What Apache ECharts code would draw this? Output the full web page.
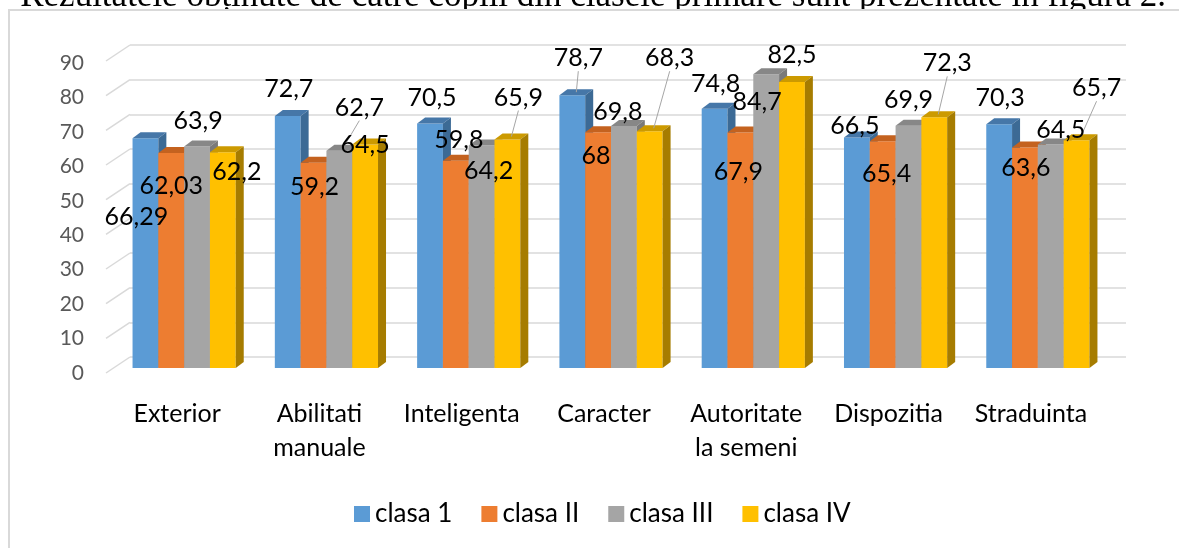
<!DOCTYPE html>
<html>
<head>
<meta charset="utf-8">
<script src="https://cdn.jsdelivr.net/npm/echarts@6/dist/echarts.min.js"></script>
<style>
  html, body { margin: 0; padding: 0; background: #fff; }
  #chart { width: 1179px; height: 548px; }
</style>
</head>
<body>
<div id="chart"></div>
<script>
// date
var categories = ['Exterior', 'Abilitati\nmanuale', 'Inteligenta', 'Caracter', 'Autoritate\nla semeni', 'Dispozitia', 'Straduinta'];
var seriesNames = ['clasa 1', 'clasa II', 'clasa III', 'clasa IV'];
var clasa1 = [66.29, 72.7, 70.5, 78.7, 74.8, 66.5, 70.3];
var clasa2 = [62.03, 59.2, 59.8, 68, 67.9, 65.4, 63.6];
var clasa3 = [63.9, 62.7, 64.2, 69.8, 84.7, 69.9, 64.5];
var clasa4 = [62.2, 64.5, 65.9, 68.3, 82.5, 72.3, 65.7];
var yTicks = [0, 10, 20, 30, 40, 50, 60, 70, 80, 90];

// stil: culori fata / capac / lateral
var faceColors = ['#5B9BD5', '#ED7D31', '#A5A5A5', '#FFC000'];
var topColors = ['#4677a8', '#c4621f', '#878787', '#cc9a00'];
var sideColors = ['#3c6a95', '#b0561b', '#7a7a7a', '#a67c00'];

// pozitia etichetelor (mutate manual in original), fata de capul barei
var labelShift = [
  [[-9, 79], [1, -27], [2, -26], [6, -37], [1, -25], [-2, -12], [1, -26]],
  [[0, 33], [1, 24], [3, -21], [-2, 24], [-2, 39], [4, 33], [1, 20]],
  [[1, -26], [20, -43], [7, 25], [-6, -14], [-9, 28], [0, -26], [10, -14]],
  [[14, 20], [0, 1], [11, -42], [20, -73], [0, -27], [13, -54], [20, -52]]
];
var leaderLines = [[3], [], [1], [2, 3, 5, 6]];

var FONT = 'Lato, "Noto Sans", sans-serif';
var DEPTH_X = -17, DEPTH_Y = 11;   // fata barelor fata de peretele din spate
var CAP_X = 8, CAP_Y = -6;         // adancimea barei
var WALL_X = -24, WALL_Y = 16;     // peretele din stanga

function fmt(v) { return String(v).replace('.', ','); }

function barRenderer(si) {
  return function (params, api) {
    var c = api.value(0), v = api.value(1);
    var top = api.coord([c, v]);
    var base = api.coord([c, 0]);
    var band = api.size([1, 0])[0];
    var w = band * 0.1813;
    var cx = top[0] + DEPTH_X + (si - 1.5) * w;
    var x0 = cx - w / 2, x1 = cx + w / 2;
    var yt = top[1] + DEPTH_Y, yb = base[1] + DEPTH_Y;
    var children = [
      { type: 'rect', shape: { x: x0, y: yt, width: w, height: yb - yt }, style: { fill: faceColors[si] } },
      { type: 'polygon', shape: { points: [[x0, yt], [x1, yt], [x1 + CAP_X, yt + CAP_Y], [x0 + CAP_X, yt + CAP_Y]] }, style: { fill: topColors[si] } },
      { type: 'polygon', shape: { points: [[x1, yt], [x1 + CAP_X, yt + CAP_Y], [x1 + CAP_X, yb + CAP_Y], [x1, yb]] }, style: { fill: sideColors[si] } }
    ];
    var sh = labelShift[si][c];
    var lx = cx + sh[0], ly = yt + sh[1];
    if (leaderLines[si].indexOf(c) >= 0) {
      children.push({
        type: 'line', z2: 90,
        shape: { x1: lx, y1: ly + 13, x2: cx + CAP_X / 2, y2: yt + CAP_Y / 2 },
        style: { stroke: '#a6a6a6', lineWidth: 1 }
      });
    }
    children.push({
      type: 'text', z2: 100,
      x: lx, y: ly,
      style: { text: fmt(v), font: '25px ' + FONT, fill: '#000', align: 'center', verticalAlign: 'middle' }
    });
    return { type: 'group', children: children };
  };
}

var allValues = [clasa1, clasa2, clasa3, clasa4];
var series = allValues.map(function (vals, si) {
  return {
    name: seriesNames[si],
    type: 'custom',
    xAxisIndex: 0, yAxisIndex: 0,
    itemStyle: { color: faceColors[si] },
    renderItem: barRenderer(si),
    data: vals.map(function (v, c) { return [c, v]; }),
    silent: true
  };
});

// liniile oblice ale peretelui din stanga
series.unshift({
  name: 'perete',
  type: 'custom',
  xAxisIndex: 0, yAxisIndex: 0,
  silent: true,
  renderItem: function (params, api) {
    var p = api.coord([0, api.value(0)]);
    var x = params.coordSys.x;
    return {
      type: 'line',
      shape: { x1: x, y1: p[1], x2: x + WALL_X, y2: p[1] + WALL_Y },
      style: { stroke: '#d9d9d9', lineWidth: 1.5 }
    };
  },
  data: yTicks.map(function (t) { return [t]; })
});

var chart = echarts.init(document.getElementById('chart'));
chart.setOption({
  animation: false,
  backgroundColor: '#fff',
  graphic: [
    { type: 'text', x: 1166, y: 14, style: { text: 'Rezultatele obținute de către copiii din clasele primare sunt prezentate în figura 2.', font: '35px "Liberation Serif", serif', fill: '#000', align: 'right', verticalAlign: 'bottom' } },
    { type: 'rect', shape: { x: 9, y: 10, width: 1300, height: 700 }, style: { fill: '#fff', stroke: '#d9d9d9', lineWidth: 2 } }
  ],
  legend: {
    data: seriesNames,
    left: 349,
    top: 496,
    icon: 'rect',
    itemWidth: 16,
    itemHeight: 16,
    itemGap: 29,
    textStyle: { fontFamily: FONT, fontSize: 26, color: '#000' }
  },
  grid: [
    { left: 130, right: 53, top: 45, height: 312 },
    { left: 106, width: 996, top: 63, height: 310 }
  ],
  xAxis: [
    { type: 'category', gridIndex: 0, data: categories, axisLine: { show: false }, axisTick: { show: false }, axisLabel: { show: false } },
    { type: 'category', gridIndex: 1, data: categories, axisLine: { show: false }, axisTick: { show: false },
      axisLabel: { margin: 24, fontFamily: FONT, fontSize: 25, color: '#000', lineHeight: 34, interval: 0 } }
  ],
  yAxis: [
    { type: 'value', gridIndex: 0, min: 0, max: 90, interval: 10, axisLabel: { show: false },
      axisLine: { show: false }, axisTick: { show: false },
      splitLine: { lineStyle: { color: '#d9d9d9', width: 1.5 } } },
    { type: 'value', gridIndex: 1, min: 0, max: 90, interval: 10,
      axisLine: { show: false }, axisTick: { show: false }, splitLine: { show: false },
      axisLabel: { margin: 22, fontFamily: FONT, fontSize: 21, color: '#595959' } }
  ],
  series: series
});
</script>
</body>
</html>
